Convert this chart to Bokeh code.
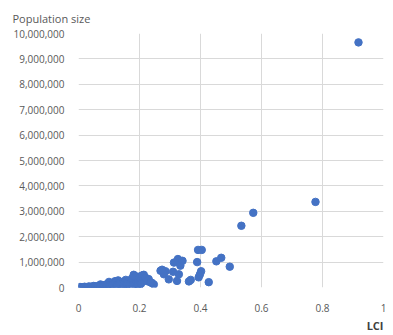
from bokeh.plotting import figure
from bokeh.models import Range1d, FixedTicker, NumeralTickFormatter, Title, CustomJSTickFormatter
from bokeh.embed import file_html
from bokeh.resources import INLINE

lci = [0.918, 0.777, 0.573, 0.534, 0.392, 0.404, 0.389, 0.452, 0.468, 0.496,
       0.402, 0.398, 0.394, 0.362, 0.368, 0.427, 0.326, 0.313, 0.334, 0.329,
       0.269, 0.285, 0.280, 0.296, 0.323, 0.341, 0.310, 0.274, 0.247, 0.214,
       0.181, 0.188, 0.203, 0.210, 0.220, 0.230, 0.241, 0.198, 0.190, 0.200,
       0.175, 0.165, 0.155, 0.145, 0.138, 0.130, 0.120, 0.116, 0.105, 0.100,
       0.090, 0.072, 0.185, 0.195, 0.170, 0.160, 0.150, 0.140, 0.128, 0.112,
       0.095, 0.085, 0.078, 0.065, 0.058, 0.050, 0.042, 0.035, 0.028, 0.020,
       0.012, 0.005, 0.010, 0.018, 0.025, 0.032, 0.040, 0.048, 0.055, 0.062,
       0.070, 0.082, 0.092, 0.102, 0.110, 0.125, 0.135, 0.148, 0.158, 0.168,
       0.178, 0.192, 0.205, 0.225, 0.236]
population = [9650000, 3370000, 2940000, 2430000, 1480000, 1480000, 1000000, 1030000, 1170000, 820000,
              640000, 510000, 400000, 240000, 300000, 210000, 1120000, 980000, 860000, 520000,
              660000, 640000, 520000, 320000, 260000, 1050000, 620000, 700000, 120000, 500000,
              500000, 440000, 440000, 480000, 380000, 330000, 180000, 20000, 300000, 250000,
              350000, 250000, 300000, 220000, 180000, 280000, 250000, 200000, 150000, 220000,
              120000, 120000, 150000, 120000, 180000, 120000, 150000, 100000, 130000, 110000,
              80000, 60000, 90000, 50000, 40000, 60000, 30000, 40000, 20000, 30000,
              10000, 20000, 5000, 15000, 10000, 25000, 15000, 35000, 20000, 45000,
              30000, 50000, 70000, 60000, 90000, 70000, 100000, 80000, 110000, 90000,
              70000, 60000, 150000, 250000, 200000]

x_ticks = [0, 0.2, 0.4, 0.6, 0.8, 1.0]
y_ticks = [i * 1000000 for i in range(11)]

p = figure(width=390, height=333, output_backend="svg", toolbar_location=None,
           x_range=Range1d(0, 1), y_range=Range1d(0, 10000000),
           min_border_left=78, min_border_right=7, min_border_top=33, min_border_bottom=45)
p.outline_line_color = None
p.background_fill_color = "white"

p.scatter(lci, population, size=7.5, color="#4472C4", line_color="#4472C4")

font = "Open Sans"
p.xaxis.ticker = FixedTicker(ticks=x_ticks)
p.yaxis.ticker = FixedTicker(ticks=y_ticks)
p.xaxis.formatter = CustomJSTickFormatter(code="return tick.toFixed(1).replace(/\\.0$/, '')")
p.yaxis.formatter = NumeralTickFormatter(format="0,0")
for ax in (p.xaxis, p.yaxis):
    ax.axis_line_color = None
    ax.major_tick_line_color = None
    ax.minor_tick_line_color = None
    ax.major_label_text_font = font
    ax.major_label_text_font_size = "10px"
    ax.major_label_text_color = "#595959"
p.xaxis.major_label_standoff = 10
p.yaxis.major_label_standoff = 8

p.xgrid.ticker = FixedTicker(ticks=x_ticks)
p.ygrid.ticker = FixedTicker(ticks=y_ticks)
p.grid.grid_line_color = "#D9D9D9"
p.grid.grid_line_width = 1

p.add_layout(Title(text="Population size", align="left", offset=-66, standoff=15,
                   text_font=font, text_font_size="11px", text_font_style="normal",
                   text_color="#595959"), "above")
p.add_layout(Title(text="LCI", align="right", offset=0, standoff=2,
                   text_font=font, text_font_size="11px", text_font_style="bold",
                   text_color="#404040"), "below")

open("out.html", "w").write(file_html(p, INLINE))
